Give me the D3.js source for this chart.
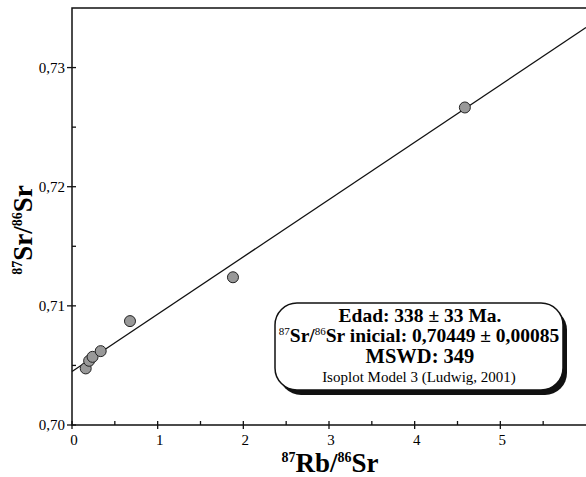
<!DOCTYPE html>
<html>
<head>
<meta charset="utf-8">
<script src="https://cdn.jsdelivr.net/npm/d3@7"></script>
<style>
  body { margin: 0; background: #fff; }
  svg { display: block; font-family: "Liberation Serif", "Times New Roman", serif; }
</style>
</head>
<body>
<div id="chart"></div>
<script>
// isochron points (87Rb/86Sr, 87Sr/86Sr)
const rbSr = [0.16, 0.20, 0.24, 0.335, 0.677, 1.879, 4.586];
const srSr = [0.70475, 0.70539, 0.70572, 0.7062, 0.70872, 0.7124, 0.72665];

// regression result
const intercept = 0.70449;
const slope = 0.004811;

const xTicks = [0, 1, 2, 3, 4, 5];
const xMinor = [0.5, 1.5, 2.5, 3.5, 4.5, 5.5];
const yTicks = [0.70, 0.71, 0.72, 0.73];
const yMinor = [0.705, 0.715, 0.725];

const boxLines = ["Edad: 338 ± 33 Ma.", "inicial: 0,70449 ± 0,00085", "MSWD: 349", "Isoplot Model 3 (Ludwig, 2001)"];

const W = 586, H = 477;
const margin = { top: 8, right: 0, bottom: 52, left: 72 };
const width = W - margin.left - margin.right;
const height = H - margin.top - margin.bottom;

const svg = d3.select("#chart").append("svg")
  .attr("width", W)
  .attr("height", H);

const g = svg.append("g")
  .attr("transform", `translate(${margin.left},${margin.top})`);

const x = d3.scaleLinear().domain([0, 6]).range([0, width]);
const y = d3.scaleLinear().domain([0.70, 0.735]).range([height, 0]);

// frame: left, top and bottom
g.append("path")
  .attr("d", `M${width},0H0V${height}H${width}`)
  .attr("fill", "none")
  .attr("stroke", "#111")
  .attr("stroke-width", 1.5);

// x ticks
g.selectAll(".xmaj").data(xTicks).enter().append("line")
  .attr("x1", d => x(d)).attr("x2", d => x(d))
  .attr("y1", height - 4).attr("y2", height + 4)
  .attr("stroke", "#111").attr("stroke-width", 1.3);
g.selectAll(".xmin").data(xMinor).enter().append("line")
  .attr("x1", d => x(d)).attr("x2", d => x(d))
  .attr("y1", height - 4).attr("y2", height)
  .attr("stroke", "#111").attr("stroke-width", 1.3);
g.selectAll(".xlab").data(xTicks).enter().append("text")
  .attr("x", d => x(d) + 2)
  .attr("y", height + 20)
  .attr("text-anchor", "middle")
  .style("font-size", "15px")
  .text(d => d);

// y ticks
g.selectAll(".ymaj").data(yTicks).enter().append("line")
  .attr("x1", -5).attr("x2", 4)
  .attr("y1", d => y(d)).attr("y2", d => y(d))
  .attr("stroke", "#111").attr("stroke-width", 1.3);
g.selectAll(".ymin").data(yMinor).enter().append("line")
  .attr("x1", 0).attr("x2", 4)
  .attr("y1", d => y(d)).attr("y2", d => y(d))
  .attr("stroke", "#111").attr("stroke-width", 1.3);
g.selectAll(".ylab").data(yTicks).enter().append("text")
  .attr("x", -7)
  .attr("y", d => y(d) + 5)
  .attr("text-anchor", "end")
  .style("font-size", "15px")
  .text(d => d3.format(".2f")(d).replace(".", ","));

// regression line
g.append("line")
  .attr("x1", x(0)).attr("y1", y(intercept))
  .attr("x2", x(6)).attr("y2", y(intercept + slope * 6))
  .attr("stroke", "#111")
  .attr("stroke-width", 1.3);

// points
g.selectAll(".pt").data(rbSr).enter().append("circle")
  .attr("cx", d => x(d))
  .attr("cy", (d, i) => y(srSr[i]))
  .attr("r", 5.5)
  .attr("fill", "#999")
  .attr("stroke", "#222")
  .attr("stroke-width", 1);

// axis titles
const xt = svg.append("text")
  .attr("x", 330).attr("y", 472)
  .attr("text-anchor", "middle")
  .style("font-size", "27px")
  .style("font-weight", "bold");
xt.append("tspan").attr("dy", -10).style("font-size", "14px").text("87");
xt.append("tspan").attr("dy", 10).text("Rb/");
xt.append("tspan").attr("dy", -10).style("font-size", "14px").text("86");
xt.append("tspan").attr("dy", 10).text("Sr");

const yt = svg.append("text")
  .attr("transform", "translate(32,230) rotate(-90)")
  .attr("text-anchor", "middle")
  .style("font-size", "27px")
  .style("font-weight", "bold");
yt.append("tspan").attr("dy", -10).style("font-size", "14px").text("87");
yt.append("tspan").attr("dy", 10).text("Sr/");
yt.append("tspan").attr("dy", -10).style("font-size", "14px").text("86");
yt.append("tspan").attr("dy", 10).text("Sr");

// result box
const bx = 275, by = 303, bw = 288, bh = 87;
svg.append("rect")
  .attr("x", bx + 4).attr("y", by + 5)
  .attr("width", bw).attr("height", bh)
  .attr("rx", 22).attr("ry", 22)
  .attr("fill", "#111");
svg.append("rect")
  .attr("x", bx).attr("y", by)
  .attr("width", bw).attr("height", bh)
  .attr("rx", 22).attr("ry", 22)
  .attr("fill", "#fff")
  .attr("stroke", "#111")
  .attr("stroke-width", 1.5);

const cx = bx + bw / 2 + 1;
svg.append("text")
  .attr("x", cx).attr("y", 322)
  .attr("text-anchor", "middle")
  .style("font-size", "19.5px").style("font-weight", "bold")
  .text(boxLines[0]);
const l2 = svg.append("text")
  .attr("x", cx - 1).attr("y", 342)
  .attr("text-anchor", "middle")
  .style("font-size", "19.5px").style("font-weight", "bold");
l2.append("tspan").attr("dy", -7).style("font-size", "11px").style("font-weight", "normal").text("87");
l2.append("tspan").attr("dy", 7).text("Sr/");
l2.append("tspan").attr("dy", -7).style("font-size", "11px").style("font-weight", "normal").text("86");
l2.append("tspan").attr("dy", 7).text("Sr " + boxLines[1]);
svg.append("text")
  .attr("x", cx).attr("y", 363)
  .attr("text-anchor", "middle")
  .style("font-size", "20.5px").style("font-weight", "bold")
  .text(boxLines[2]);
svg.append("text")
  .attr("x", cx - 1).attr("y", 382)
  .attr("text-anchor", "middle")
  .style("font-size", "15px")
  .text(boxLines[3]);
</script>
</body>
</html>
